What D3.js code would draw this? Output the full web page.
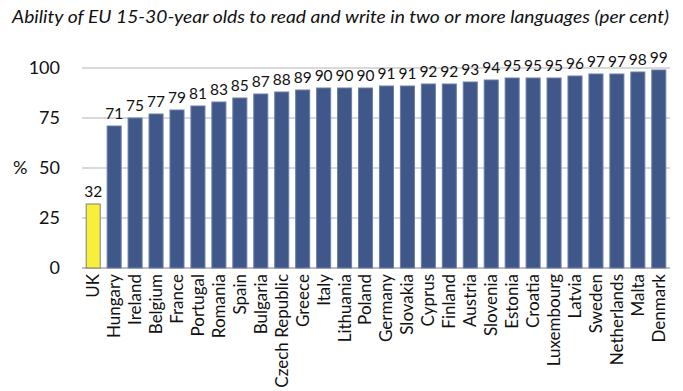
<!DOCTYPE html>
<html>
<head>
<meta charset="utf-8">
<script src="https://cdn.jsdelivr.net/npm/d3@7"></script>
<style>
  body { margin: 0; background: #fff; }
  text { font-family: Lato, "Open Sans", sans-serif; fill: #111; }
</style>
</head>
<body>
<svg id="chart" width="683" height="391"></svg>
<script>
var countries = ["UK", "Hungary", "Ireland", "Belgium", "France", "Portugal", "Romania", "Spain",
  "Bulgaria", "Czech Republic", "Greece", "Italy", "Lithuania", "Poland", "Germany", "Slovakia",
  "Cyprus", "Finland", "Austria", "Slovenia", "Estonia", "Croatia", "Luxembourg", "Latvia",
  "Sweden", "Netherlands", "Malta", "Denmark"];
var values = [32, 71, 75, 77, 79, 81, 83, 85, 87, 88, 89, 90, 90, 90, 91, 91, 92, 92, 93, 94,
  95, 95, 95, 96, 97, 97, 98, 99];
var yTicks = [0, 25, 50, 75, 100];

var svg = d3.select("#chart"),
    margin = {left: 82, right: 13, top: 68, bottom: 123},
    width = 683 - margin.left - margin.right,
    height = 391 - margin.top - margin.bottom;

var x = d3.scaleBand().domain(countries).range([0, width]).paddingInner(0.33).paddingOuter(0.2);
var y = d3.scaleLinear().domain([0, 100]).range([height, 0]);

svg.append("text")
  .attr("x", 12).attr("y", 23)
  .attr("textLength", 657).attr("lengthAdjust", "spacingAndGlyphs")
  .style("font-style", "italic")
  .style("font-size", "18px")
  .text("Ability of EU 15-30-year olds to read and write in two or more languages (per cent)");

var g = svg.append("g").attr("transform", "translate(" + margin.left + "," + margin.top + ")");

// gridlines
g.selectAll(".grid").data(yTicks).enter().append("line")
  .attr("x1", 0).attr("x2", width)
  .attr("y1", d => y(d)).attr("y2", d => y(d))
  .attr("stroke", d => d === 0 ? "#bfbfbf" : "#d9d9d9")
  .attr("stroke-width", 2);

var yAxis = g.append("g").call(d3.axisLeft(y).tickValues(yTicks).tickSize(0).tickPadding(22));
yAxis.select(".domain").remove();
yAxis.selectAll("text").style("font-size", "18px").style("font-family", "Lato, sans-serif").attr("fill", "#111");

svg.append("text").attr("x", 13).attr("y", margin.top + y(50) + 6)
  .style("font-size", "18px").text("%");

g.selectAll(".bar").data(values).enter().append("rect")
  .attr("x", (d, i) => x(countries[i]))
  .attr("y", d => y(d))
  .attr("width", x.bandwidth())
  .attr("height", d => height - y(d))
  .attr("fill", (d, i) => countries[i] === "UK" ? "#f8ef3c" : "#3f5789")
  .attr("stroke", (d, i) => countries[i] === "UK" ? "#7f7f7f" : "#6c7fa8")
  .attr("stroke-width", 1);

g.selectAll(".val").data(values).enter().append("text")
  .attr("x", (d, i) => x(countries[i]) + x.bandwidth() / 2)
  .attr("y", d => y(d) - 7)
  .attr("text-anchor", "middle")
  .style("font-size", "15.5px")
  .text(d => d);

var xAxis = g.append("g").attr("transform", "translate(0," + height + ")")
  .call(d3.axisBottom(x).tickSize(0).tickPadding(0));
xAxis.select(".domain").remove();
xAxis.selectAll("text")
  .style("font-size", "17px").style("font-family", "Lato, sans-serif").attr("fill", "#111")
  .attr("transform", "rotate(-90)")
  .attr("text-anchor", "end")
  .attr("dy", "0.35em")
  .attr("x", -6).attr("y", 0);
</script>
</body>
</html>
